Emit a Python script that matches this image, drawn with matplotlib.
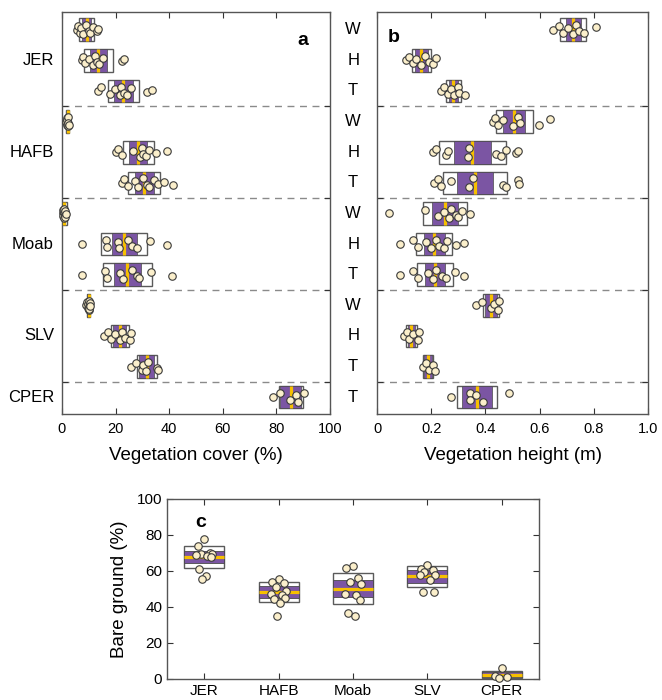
import matplotlib
matplotlib.use("Agg")
import matplotlib.pyplot as plt
import matplotlib.transforms as mtransforms
from matplotlib.patches import Rectangle
import numpy as np

plt.rcParams['font.family'] = ['Liberation Sans', 'DejaVu Sans']

# ---------------- data ----------------
sites = ["JER", "HAFB", "Moab", "SLV", "CPER"]
row_sites = ["JER", "JER", "JER", "HAFB", "HAFB", "HAFB", "Moab", "Moab", "Moab",
             "SLV", "SLV", "SLV", "CPER"]
row_types = ["W", "H", "T", "W", "H", "T", "W", "H", "T", "W", "H", "T", "T"]

# Panel a: vegetation cover (%)
cover_mean = [9.3, 13.6, 22.9, 2.1, 28.4, 30.7, 0.8, 23.3, 24.4, 9.9, 21.6, 31.6, 85.4]
cover_sd = [2.8, 5.25, 5.85, 0.6, 5.8, 5.95, 0.9, 8.6, 9.0, 0.7, 3.45, 3.8, 4.4]
cover_ci = [1.7, 3.15, 3.45, 0.35, 3.35, 3.45, 0.5, 4.8, 5.1, 0.45, 2.45, 2.7, 3.9]
cover_pts = [
    [5.5, 6.1, 6.7, 7.0, 7.9, 9.0, 10.2, 10.4, 11.7, 13.2, 13.5],
    [7.3, 8.0, 8.6, 10.2, 11.7, 12.3, 13.2, 13.9, 15.4, 22.3, 23.1],
    [13.6, 14.4, 17.9, 19.8, 21.6, 21.9, 23.0, 24.1, 25.7, 31.8, 33.5],
    [1.6, 1.8, 1.9, 2.0, 2.1, 2.2, 2.4, 2.5],
    [20.1, 21.0, 22.3, 26.4, 29.1, 29.7, 30.3, 31.5, 32.6, 35.1, 39.1],
    [22.3, 23.1, 24.7, 27.2, 28.5, 30.3, 31.8, 32.6, 34.3, 35.9, 38.1, 41.5],
    [0.3, 0.4, 0.5, 0.6, 0.8, 0.9, 1.0, 1.1, 1.2, 1.4],
    [7.3, 16.4, 16.9, 21.0, 21.4, 24.7, 26.0, 27.9, 32.8, 39.3],
    [7.3, 16.0, 16.9, 21.6, 22.6, 26.0, 27.9, 28.8, 33.1, 40.9],
    [9.0, 9.4, 9.6, 9.8, 9.9, 10.0, 10.1, 10.2, 10.4, 10.6],
    [15.8, 17.0, 18.2, 19.8, 21.6, 22.5, 23.5, 25.4, 25.6],
    [25.6, 27.6, 29.7, 30.3, 31.5, 32.2, 35.3, 35.9],
    [78.9, 81.3, 85.1, 87.3, 88.2, 90.4],
]

# Panel b: vegetation height (m)
height_mean = [0.724, 0.164, 0.282, 0.506, 0.352, 0.362, 0.252, 0.212, 0.214,
               0.421, 0.127, 0.188, 0.369]
height_sd = [0.0475, 0.0355, 0.0275, 0.0685, 0.123, 0.119, 0.0815, 0.0665, 0.068,
             0.0285, 0.0205, 0.0185, 0.072]
height_ci = [0.027, 0.023, 0.018, 0.0405, 0.0695, 0.066, 0.0475, 0.038, 0.0375,
             0.021, 0.012, 0.0135, 0.0565]
height_pts = [
    [0.648, 0.670, 0.685, 0.704, 0.722, 0.734, 0.747, 0.765, 0.808],
    [0.107, 0.119, 0.134, 0.144, 0.162, 0.178, 0.193, 0.205, 0.218],
    [0.236, 0.248, 0.261, 0.273, 0.285, 0.298, 0.304, 0.326],
    [0.429, 0.437, 0.445, 0.464, 0.501, 0.519, 0.528, 0.599, 0.638],
    [0.205, 0.218, 0.255, 0.261, 0.335, 0.341, 0.439, 0.458, 0.476, 0.513, 0.519],
    [0.212, 0.224, 0.236, 0.273, 0.341, 0.353, 0.464, 0.476, 0.519, 0.523],
    [0.045, 0.178, 0.224, 0.248, 0.267, 0.273, 0.292, 0.298, 0.314, 0.344],
    [0.085, 0.134, 0.150, 0.181, 0.199, 0.218, 0.230, 0.248, 0.257, 0.292, 0.322],
    [0.085, 0.134, 0.153, 0.187, 0.208, 0.218, 0.240, 0.255, 0.288, 0.322],
    [0.365, 0.387, 0.421, 0.433, 0.445, 0.451],
    [0.101, 0.110, 0.119, 0.132, 0.150, 0.156],
    [0.169, 0.181, 0.193, 0.208, 0.213],
    [0.273, 0.343, 0.344, 0.365, 0.392, 0.488],
]

# Panel c: bare ground (%)
bare_mean = [67.8, 48.2, 50.2, 57.0, 2.5]
bare_sd = [6.3, 5.55, 8.7, 5.65, 2.1]
bare_ci = [3.5, 3.35, 4.8, 3.7, 1.6]
bare_pts = [
    [77.8, 74.1, 70.0, 69.5, 69.3, 68.9, 68.3, 67.9, 61.1, 57.4, 55.4],
    [55.4, 53.7, 53.2, 51.3, 48.9, 47.5, 46.7, 44.8, 44.5, 42.4, 35.2],
    [62.8, 61.9, 56.1, 54.1, 52.6, 47.0, 46.7, 43.7, 36.8, 35.2],
    [63.3, 61.0, 60.6, 59.5, 58.0, 57.8, 55.0, 48.5, 48.5],
    [6.0, 1.6, 1.2, 0.8],
]

# ---------------- style ----------------
PURPLE = "#7b55a3"
YELLOW = "#f7c000"
PT_FACE = "#fbefcb"
PT_EDGE = "#3a3a3a"
BOX_EDGE = "#5a5a5a"
JIT = [0.0, -0.11, 0.09, -0.05, 0.13, -0.13, 0.05, 0.11, -0.08, 0.03, -0.03, 0.07]
MS = 5.4

W, H = 662, 700
fig = plt.figure(figsize=(W / 100, H / 100), dpi=100)


def fa(l, r, t, b):
    return fig.add_axes([l / W, 1 - b / H, (r - l) / W, (b - t) / H])


ax_a = fa(62, 330, 12, 414)
ax_b = fa(377, 648, 12, 414)
ax_c = fa(167, 539, 499, 679)

nrows = len(row_types)
rows = np.arange(1, nrows + 1)


def draw_h(ax, means, sds, cis, pts):
    hh = 0.37
    for i, r in enumerate(rows):
        m, s, c = means[i], sds[i], cis[i]
        ax.add_patch(Rectangle((m - s, r - hh), 2 * s, 2 * hh, facecolor="white",
                               edgecolor=BOX_EDGE, lw=1.0, zorder=2))
        ax.add_patch(Rectangle((m - c, r - hh), 2 * c, 2 * hh, facecolor=PURPLE,
                               edgecolor="#4a4a4a", lw=0.5, zorder=3))
        ax.plot([m, m], [r - hh, r + hh], color=YELLOW, lw=2.3, zorder=4,
                solid_capstyle="butt")
        p = pts[i]
        jit = [JIT[k % len(JIT)] * 1.1 for k in range(len(p))]
        ax.plot(p, r + np.array(jit), "o", ms=MS, mfc=PT_FACE, mec=PT_EDGE,
                mew=0.8, zorder=5, clip_on=False)
    for yb in [3.5, 6.5, 9.5, 12.5]:
        ax.axhline(yb, color="#8a8a8a", lw=1.0, ls=(0, (5, 4)), zorder=1)
    ax.set_ylim(13.55, 0.42)
    ax.set_yticks([3.5, 6.5, 9.5, 12.5])
    ax.set_yticklabels([])
    ax.tick_params(axis="both", direction="in", top=True, right=True,
                   length=4, width=0.8, labelsize=10.5, color="#333333")
    ax.tick_params(axis="x", pad=6)
    for sp in ax.spines.values():
        sp.set_color("#555555")
        sp.set_linewidth(1.0)


draw_h(ax_a, cover_mean, cover_sd, cover_ci, cover_pts)
draw_h(ax_b, height_mean, height_sd, height_ci, height_pts)

ax_a.set_xlim(0, 100)
ax_a.set_xticks([0, 20, 40, 60, 80, 100])
ax_a.set_xlabel("Vegetation cover (%)", fontsize=13.5, labelpad=8)
ax_b.set_xlim(0, 1.0)
ax_b.set_xticks([0, 0.2, 0.4, 0.6, 0.8, 1.0])
ax_b.set_xticklabels(["0", "0.2", "0.4", "0.6", "0.8", "1.0"])
ax_b.set_xlabel("Vegetation height (m)", fontsize=13.5, labelpad=8)

# site labels on panel a
trans_a = mtransforms.blended_transform_factory(ax_a.transAxes, ax_a.transData)
site_rows = {"JER": 2, "HAFB": 5, "Moab": 8, "SLV": 11, "CPER": 13}
for s in sites:
    ax_a.text(-0.03, site_rows[s], s, transform=trans_a, ha="right", va="center",
              fontsize=12)

# W/H/T labels between panels
trans_b = mtransforms.blended_transform_factory(ax_b.transAxes, ax_b.transData)
for r, t in zip(rows, row_types):
    ax_b.text(-0.088, r, t, transform=trans_b, ha="center", va="center", fontsize=12)

ax_a.text(0.9, 0.93, "a", transform=ax_a.transAxes, fontsize=14, fontweight="bold",
          ha="center", va="center")
ax_b.text(0.06, 0.937, "b", transform=ax_b.transAxes, fontsize=14, fontweight="bold",
          ha="center", va="center")

# ---------------- panel c ----------------
xs = np.arange(1, len(sites) + 1)
hw = 0.27
for i, x in enumerate(xs):
    m, s, c = bare_mean[i], bare_sd[i], bare_ci[i]
    ax_c.add_patch(Rectangle((x - hw, m - s), 2 * hw, 2 * s, facecolor="white",
                             edgecolor=BOX_EDGE, lw=1.0, zorder=2))
    ax_c.add_patch(Rectangle((x - hw, m - c), 2 * hw, 2 * c, facecolor=PURPLE,
                             edgecolor="#4a4a4a", lw=0.6, zorder=3))
    ax_c.plot([x - hw, x + hw], [m, m], color=YELLOW, lw=2.3, zorder=4,
              solid_capstyle="butt")
    p = bare_pts[i]
    jit = [JIT[k % len(JIT)] * 0.8 for k in range(len(p))]
    ax_c.plot(x + np.array(jit), p, "o", ms=MS, mfc=PT_FACE, mec=PT_EDGE, mew=0.8,
              zorder=5, clip_on=False)

ax_c.set_xlim(0.5, 5.5)
ax_c.set_ylim(0, 100)
ax_c.set_xticks(xs)
ax_c.set_xticklabels(sites)
ax_c.set_yticks([0, 20, 40, 60, 80, 100])
ax_c.set_ylabel("Bare ground (%)", fontsize=13.5, labelpad=6)
ax_c.tick_params(axis="both", direction="in", top=True, right=True, length=4,
                 width=0.8, labelsize=11, color="#333333")
for sp in ax_c.spines.values():
    sp.set_color("#555555")
    sp.set_linewidth(1.0)
ax_c.text(0.09, 0.87, "c", transform=ax_c.transAxes, fontsize=14, fontweight="bold",
          ha="center", va="center")

fig.savefig("out.png", dpi=100)
